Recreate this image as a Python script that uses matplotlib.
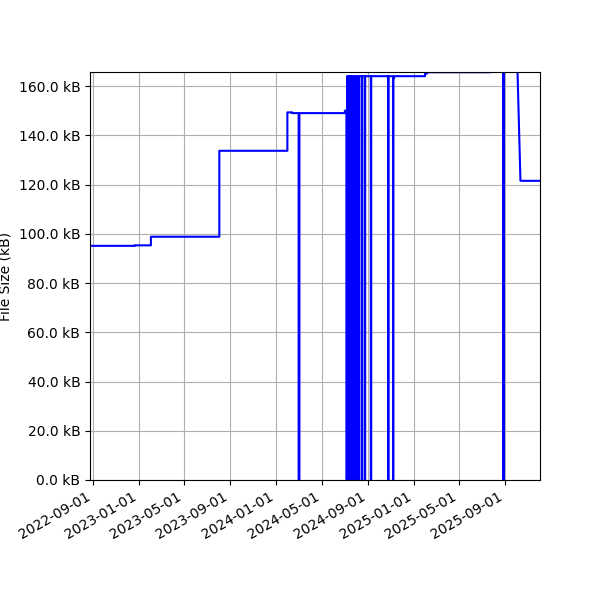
import matplotlib
matplotlib.use("Agg")
import matplotlib.pyplot as plt
import matplotlib.dates as mdates
import matplotlib.ticker as mticker
import pandas as pd

dates = ["2022-08-24", "2022-12-21", "2022-12-21", "2023-02-02", "2023-02-02", "2023-08-03", "2023-08-03",
         "2024-01-31", "2024-01-31", "2024-02-13", "2024-02-13", "2024-03-01", "2024-03-01", "2024-03-03", "2024-03-03",
         "2024-07-02", "2024-07-02", "2024-07-06", "2024-07-06", "2024-07-08", "2024-07-08",
         "2024-07-10", "2024-07-10", "2024-07-12", "2024-07-12", "2024-07-14", "2024-07-14",
         "2024-07-16", "2024-07-16", "2024-07-18", "2024-07-18", "2024-07-21", "2024-07-21",
         "2024-07-26", "2024-07-26", "2024-07-28", "2024-07-28", "2024-07-31", "2024-07-31",
         "2024-08-03", "2024-08-03", "2024-08-06", "2024-08-06", "2024-08-09", "2024-08-09",
         "2024-08-16", "2024-08-16", "2024-08-17", "2024-08-17", "2024-08-24", "2024-08-24",
         "2024-08-25", "2024-08-25", "2024-09-09", "2024-09-09", "2024-09-10", "2024-09-10",
         "2024-10-25", "2024-10-25", "2024-10-26", "2024-10-26", "2024-11-07", "2024-11-07",
         "2024-11-08", "2024-11-08", "2024-11-10", "2024-11-10",
         "2025-01-31", "2025-01-31", "2025-02-05", "2025-02-05", "2025-07-24", "2025-07-24",
         "2025-08-27", "2025-08-27", "2025-08-29", "2025-08-29", "2025-10-04", "2025-10-12", "2025-12-03"]
sizes = [95.1, 95.1, 95.3, 95.3, 98.8, 98.8, 133.7,
         133.7, 149.3, 149.3, 149.0, 149.0, 0, 0, 149.0,
         149.0, 150.0, 150.0, 0, 0, 164.0,
         164.0, 0, 0, 164.0, 164.0, 0,
         0, 164.0, 164.0, 0, 0, 164.0,
         164.0, 0, 0, 164.0, 164.0, 0,
         0, 164.0, 164.0, 0, 0, 164.0,
         164.0, 0, 0, 164.0, 164.0, 0,
         0, 164.0, 164.0, 0, 0, 164.0,
         164.0, 0, 0, 164.0, 164.0, 0,
         0, 163.2, 163.2, 164.0,
         164.0, 165.0, 165.0, 165.6, 165.6, 167.0,
         167.0, 0, 0, 167.0, 167.0, 121.5, 121.5]

x = pd.to_datetime(dates)

fig, ax = plt.subplots(figsize=(6, 6), dpi=100)
ax.plot(x, sizes, color="blue", linewidth=1.5)
ax.set_ylim(0, 165.7)
ax.set_xlim(pd.Timestamp("2022-08-24"), pd.Timestamp("2025-12-03"))
ax.yaxis.set_major_formatter(mticker.FuncFormatter(lambda v, p: f"{v:.1f} kB"))
ax.yaxis.set_major_locator(mticker.MultipleLocator(20))
ax.xaxis.set_major_locator(mdates.MonthLocator(bymonth=[1, 5, 9], bymonthday=1))
ax.xaxis.set_major_formatter(mdates.DateFormatter("%Y-%m-%d"))
ax.set_ylabel("File Size (kB)")
ax.grid(True)
fig.autofmt_xdate()
fig.subplots_adjust(left=0.15, right=0.9, bottom=0.2, top=0.88)
fig.savefig("out.png")
